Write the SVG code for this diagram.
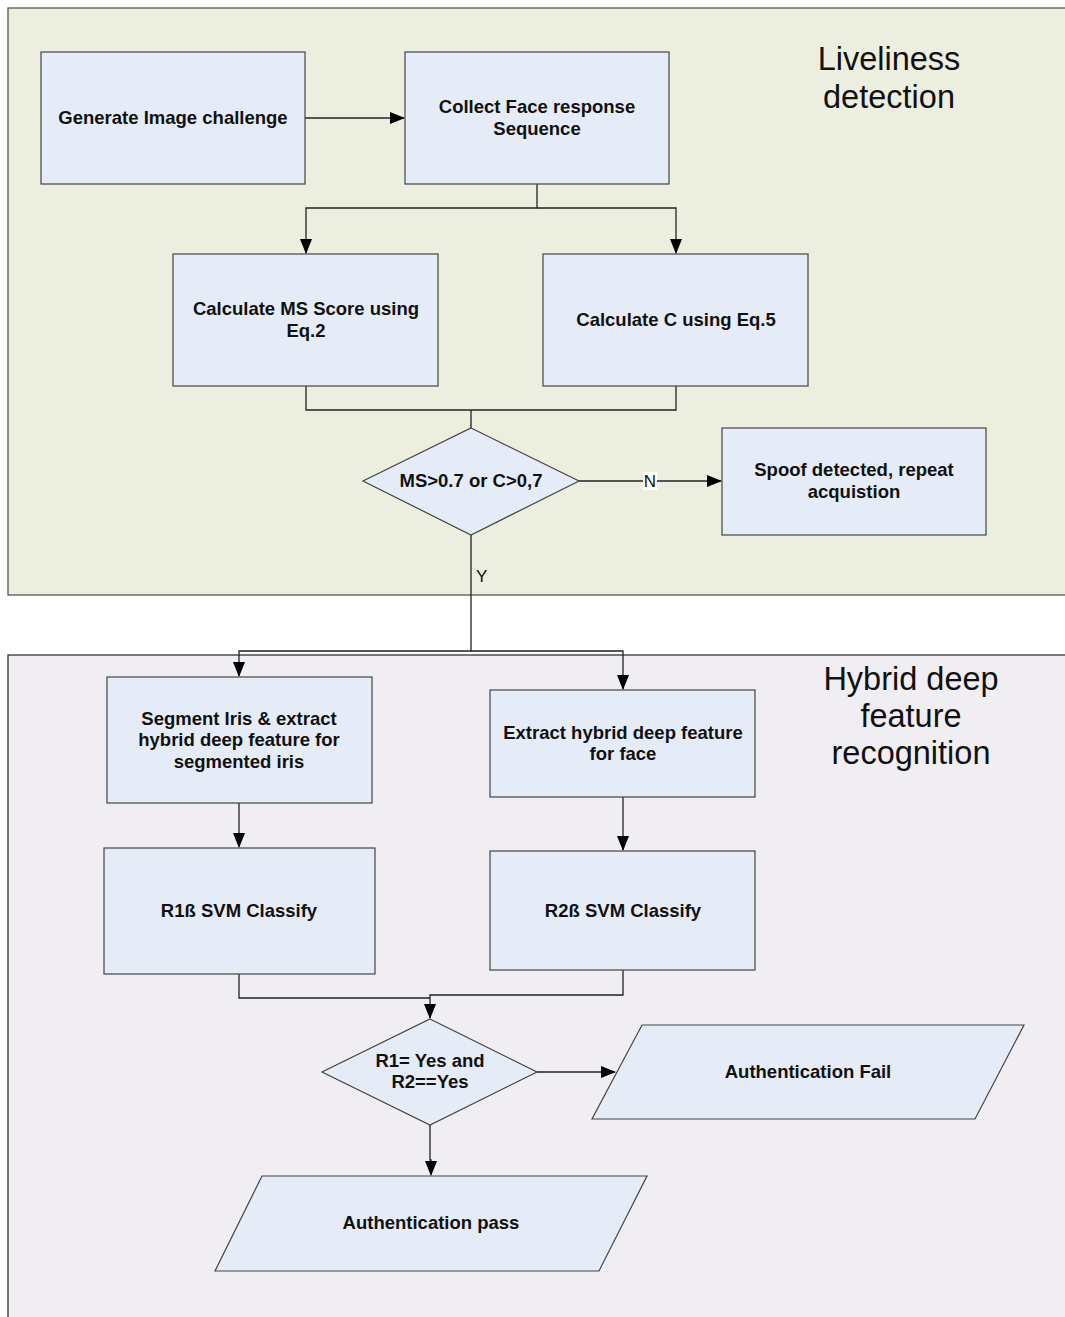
<svg xmlns="http://www.w3.org/2000/svg" width="1065" height="1317" viewBox="0 0 1065 1317">
<style>
.node{fill:#E5ECF7;stroke:#444;stroke-width:1.2}
.t{font-family:"Liberation Sans",Arial,sans-serif;font-weight:bold;font-size:18.5px;fill:#111;text-anchor:middle}
.title{font-family:"Liberation Sans",Arial,sans-serif;font-size:32.5px;fill:#111;text-anchor:middle}
.lbl{font-family:"Liberation Sans",Arial,sans-serif;font-size:17px;fill:#111}
.c{fill:none;stroke:#222;stroke-width:1.3}
</style>
<defs>
<marker id="ah" markerWidth="15" markerHeight="12" refX="14" refY="6" orient="auto" markerUnits="userSpaceOnUse">
<path d="M0,0 L15,6 L0,12 Z" fill="#000"/>
</marker>
</defs>
<rect width="1065" height="1317" fill="#fff"/>
<g id="liveliness-container">
<rect x="8" y="8" width="1070" height="587" fill="#ECEFDF" stroke="#555" stroke-width="1.3"/>
<text class="title" x="889" y="70">Liveliness</text>
<text class="title" x="889" y="108">detection</text>
</g>
<g id="recognition-container">
<rect x="8" y="655" width="1070" height="680" fill="#F0EEF3" stroke="#333" stroke-width="1.3"/>
<text class="title" x="911" y="690">Hybrid deep</text>
<text class="title" x="911" y="727">feature</text>
<text class="title" x="911" y="764">recognition</text>
</g>
<g id="connectors">
<path class="c" d="M305,118 L404,118" marker-end="url(#ah)"/>
<path class="c" d="M537,184 L537,208 L306,208 L306,253" marker-end="url(#ah)"/>
<path class="c" d="M537,208 L676,208 L676,253" marker-end="url(#ah)"/>
<path class="c" d="M306,386 L306,410 L676,410 L676,386"/>
<path class="c" d="M471,410 L471,428"/>
<path class="c" d="M579,481 L721,481" marker-end="url(#ah)"/>
<rect x="643" y="472" width="14" height="18" fill="#fff"/>
<text class="lbl" x="650" y="487" text-anchor="middle">N</text>
<path class="c" d="M471,535 L471,651 L239,651 L239,676" marker-end="url(#ah)"/>
<path class="c" d="M471,651 L623,651 L623,689" marker-end="url(#ah)"/>
<text class="lbl" x="476" y="582">Y</text>
<path class="c" d="M239,803 L239,847" marker-end="url(#ah)"/>
<path class="c" d="M623,797 L623,850" marker-end="url(#ah)"/>
<path class="c" d="M239,974 L239,998 L430,998"/>
<path class="c" d="M623,970 L623,995 L430,995 L430,1018" marker-end="url(#ah)"/>
<path class="c" d="M537,1072 L615,1072" marker-end="url(#ah)"/>
<path class="c" d="M430,1125 L430,1160 L431,1160 L431,1175" marker-end="url(#ah)"/>
</g>
<g id="generate">
<rect class="node" x="41" y="52" width="264" height="132"/>
<text class="t" x="173" y="124">Generate Image challenge</text>
</g>
<g id="collect">
<rect class="node" x="405" y="52" width="264" height="132"/>
<text class="t" x="537" y="113">Collect Face response</text>
<text class="t" x="537" y="135">Sequence</text>
</g>
<g id="calc-ms">
<rect class="node" x="173" y="254" width="265" height="132"/>
<text class="t" x="306" y="315">Calculate MS Score using</text>
<text class="t" x="306" y="337">Eq.2</text>
</g>
<g id="calc-c">
<rect class="node" x="543" y="254" width="265" height="132"/>
<text class="t" x="676" y="326">Calculate C using Eq.5</text>
</g>
<g id="decision-ms">
<polygon class="node" points="471,428 579,481 471,535 363,481"/>
<text class="t" x="471" y="487">MS&gt;0.7 or C&gt;0,7</text>
</g>
<g id="spoof">
<rect class="node" x="722" y="428" width="264" height="107"/>
<text class="t" x="854" y="476">Spoof detected, repeat</text>
<text class="t" x="854" y="498">acquistion</text>
</g>
<g id="segment-iris">
<rect class="node" x="107" y="677" width="265" height="126"/>
<text class="t" x="239" y="725">Segment Iris &amp; extract</text>
<text class="t" x="239" y="746">hybrid deep feature for</text>
<text class="t" x="239" y="768">segmented iris</text>
</g>
<g id="extract-face">
<rect class="node" x="490" y="690" width="265" height="107"/>
<text class="t" x="623" y="739">Extract hybrid deep feature</text>
<text class="t" x="623" y="760">for face</text>
</g>
<g id="r1-svm">
<rect class="node" x="104" y="848" width="271" height="126"/>
<text class="t" x="239" y="917">R1ß SVM Classify</text>
</g>
<g id="r2-svm">
<rect class="node" x="490" y="851" width="265" height="119"/>
<text class="t" x="623" y="917">R2ß SVM Classify</text>
</g>
<g id="decision-r">
<polygon class="node" points="430,1019 537,1072 430,1125 322,1072"/>
<text class="t" x="430" y="1067">R1= Yes and</text>
<text class="t" x="430" y="1088">R2==Yes</text>
</g>
<g id="auth-fail">
<polygon class="node" points="642,1025 1024,1025 975,1119 592,1119"/>
<text class="t" x="808" y="1078">Authentication Fail</text>
</g>
<g id="auth-pass">
<polygon class="node" points="262,1176 647,1176 599,1271 215,1271"/>
<text class="t" x="431" y="1229">Authentication pass</text>
</g>
</svg>
